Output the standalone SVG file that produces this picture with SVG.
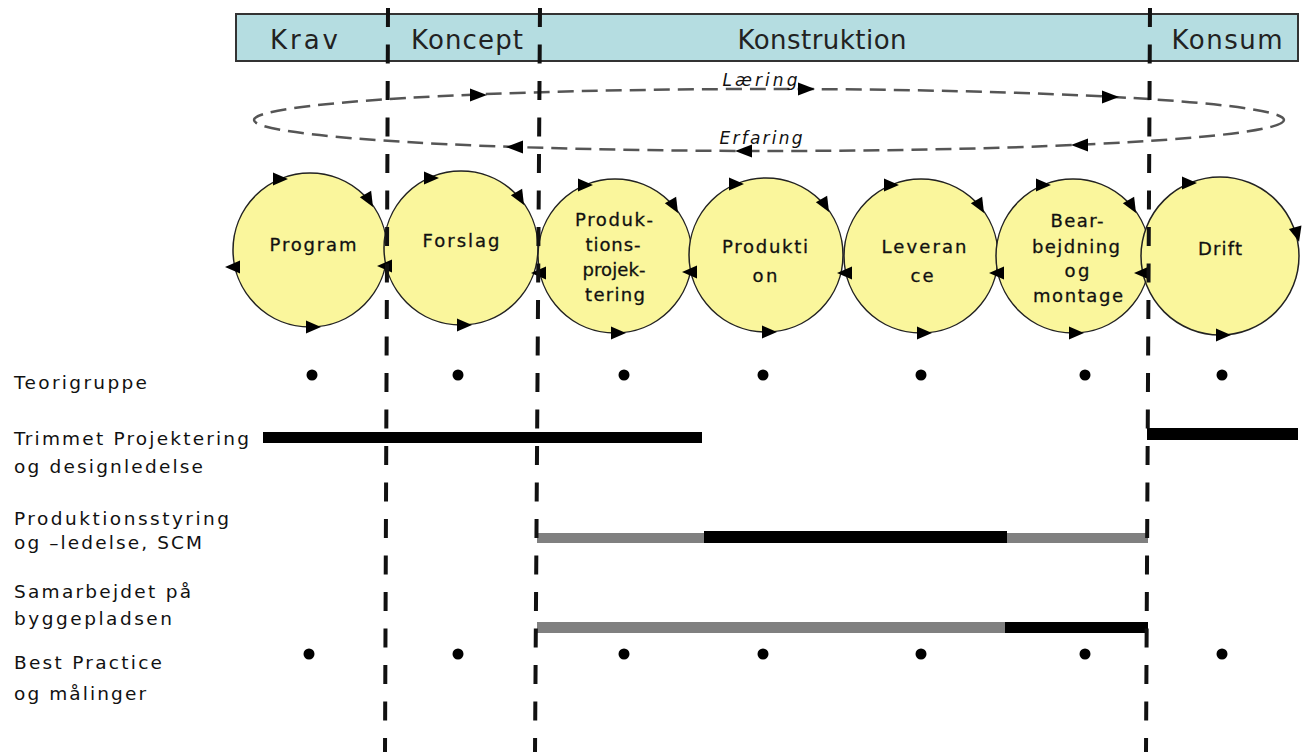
<svg xmlns="http://www.w3.org/2000/svg" width="1304" height="752" viewBox="0 0 1304 752">
<defs>
<style>
.hdr{fill:#B5DDE1;stroke:#333;stroke-width:2}
.hl{font-family:"DejaVu Sans","Liberation Sans",sans-serif;font-size:26px;fill:#222;text-anchor:middle}
.circ{fill:#FAF69C;stroke:#222;stroke-width:1.5}
.ct{font-family:"DejaVu Sans","Liberation Sans",sans-serif;font-size:18px;fill:#111;text-anchor:middle;stroke:#111;stroke-width:0.3}
.lbl{font-family:"DejaVu Sans","Liberation Sans",sans-serif;font-size:18.5px;fill:#111}
.cyc{font-family:"DejaVu Sans","Liberation Sans",sans-serif;font-size:17px;font-style:italic;fill:#111;text-anchor:middle}
.div{stroke:#111;stroke-width:4;stroke-dasharray:19 17.5;fill:none}
.ell{fill:none;stroke:#555;stroke-width:2.5;stroke-dasharray:16 8}
.dot{fill:#000}
.blk{fill:#000}
.gry{fill:#808080}
</style>
<path id="ah" d="M9,0 L-8,-6.5 L-8,6.5 Z" fill="#000"/>
<path id="ch" d="M8,0 L-7,-6.5 L-7,6.5 Z" fill="#000"/>
</defs>
<rect width="1304" height="752" fill="#fff"/>

<g id="phases">
  <rect class="hdr" x="236" y="14" width="1062" height="47"/>
  <text class="hl" x="304" y="49" textLength="68" lengthAdjust="spacing">Krav</text>
  <text class="hl" x="467" y="49" textLength="112" lengthAdjust="spacing">Koncept</text>
  <text class="hl" x="822" y="49" textLength="169" lengthAdjust="spacing">Konstruktion</text>
  <text class="hl" x="1227" y="49" textLength="111" lengthAdjust="spacing">Konsum</text>
</g>

<g id="connectors">
  <ellipse class="ell" cx="769" cy="120" rx="515" ry="31"/>
  <use href="#ah" transform="translate(478,95)"/>
  <use href="#ah" transform="translate(806,89)"/>
  <use href="#ah" transform="translate(1110,97)"/>
  <use href="#ah" transform="translate(515,147) rotate(180)"/>
  <use href="#ah" transform="translate(744,151) rotate(180)"/>
  <use href="#ah" transform="translate(1080,145) rotate(180)"/>
  <text class="cyc" x="760" y="86" textLength="75" lengthAdjust="spacing">Læring</text>
  <text class="cyc" x="761" y="144" textLength="83" lengthAdjust="spacing">Erfaring</text>
</g>

<g id="node-program">
  <circle class="circ" cx="310" cy="250" r="77"/>
  <use href="#ch" transform="translate(280,179)"/>
  <use href="#ch" transform="translate(369,200) rotate(60)"/>
  <use href="#ch" transform="translate(233,267) rotate(180)"/>
  <use href="#ch" transform="translate(313,327)"/>
  <text class="ct" x="313" y="251" textLength="87" lengthAdjust="spacing">Program</text>
</g>
<g id="node-forslag">
  <circle class="circ" cx="461" cy="248" r="77"/>
  <use href="#ch" transform="translate(431,178)"/>
  <use href="#ch" transform="translate(520,198) rotate(60)"/>
  <use href="#ch" transform="translate(385,266) rotate(180)"/>
  <use href="#ch" transform="translate(464,325)"/>
  <text class="ct" x="461" y="247" textLength="77" lengthAdjust="spacing">Forslag</text>
</g>
<g id="node-produktionsprojektering">
  <circle class="circ" cx="615" cy="256" r="77"/>
  <use href="#ch" transform="translate(585,185)"/>
  <use href="#ch" transform="translate(674,206) rotate(60)"/>
  <use href="#ch" transform="translate(539,273) rotate(180)"/>
  <use href="#ch" transform="translate(618,333)"/>
  <text class="ct" x="614" y="226" textLength="78" lengthAdjust="spacing">Produk-</text>
  <text class="ct" x="613" y="251" textLength="55" lengthAdjust="spacing">tions-</text>
  <text class="ct" x="614" y="276" textLength="63" lengthAdjust="spacing">projek-</text>
  <text class="ct" x="615" y="301" textLength="60" lengthAdjust="spacing">tering</text>
</g>
<g id="node-produktion">
  <circle class="circ" cx="766" cy="255" r="77"/>
  <use href="#ch" transform="translate(736,184)"/>
  <use href="#ch" transform="translate(825,205) rotate(60)"/>
  <use href="#ch" transform="translate(690,272) rotate(180)"/>
  <use href="#ch" transform="translate(769,332)"/>
  <text class="ct" x="765" y="253" textLength="86" lengthAdjust="spacing">Produkti</text>
  <text class="ct" x="765" y="282" textLength="25" lengthAdjust="spacing">on</text>
</g>
<g id="node-leverance">
  <circle class="circ" cx="921" cy="256" r="77"/>
  <use href="#ch" transform="translate(891,185)"/>
  <use href="#ch" transform="translate(980,206) rotate(60)"/>
  <use href="#ch" transform="translate(845,273) rotate(180)"/>
  <use href="#ch" transform="translate(924,333)"/>
  <text class="ct" x="924" y="253" textLength="85" lengthAdjust="spacing">Leveran</text>
  <text class="ct" x="922" y="282" textLength="23" lengthAdjust="spacing">ce</text>
</g>
<g id="node-bearbejdning">
  <circle class="circ" cx="1073" cy="256" r="77"/>
  <use href="#ch" transform="translate(1043,185)"/>
  <use href="#ch" transform="translate(1132,206) rotate(60)"/>
  <use href="#ch" transform="translate(997,273) rotate(180)"/>
  <use href="#ch" transform="translate(1076,333)"/>
  <text class="ct" x="1077" y="227" textLength="53" lengthAdjust="spacing">Bear-</text>
  <text class="ct" x="1076" y="253" textLength="88" lengthAdjust="spacing">bejdning</text>
  <text class="ct" x="1077" y="277" textLength="25" lengthAdjust="spacing">og</text>
  <text class="ct" x="1078" y="302" textLength="90" lengthAdjust="spacing">montage</text>
</g>
<g id="node-drift">
  <circle class="circ" cx="1220" cy="256" r="79"/>
  <use href="#ch" transform="translate(1189,183)"/>
  <use href="#ch" transform="translate(1297,234) rotate(75)"/>
  <use href="#ch" transform="translate(1142,273) rotate(180)"/>
  <use href="#ch" transform="translate(1223,335)"/>
  <text class="ct" x="1220" y="255" textLength="44" lengthAdjust="spacing">Drift</text>
</g>

<g id="row-teorigruppe">
  <text class="lbl" x="14" y="389" textLength="133" lengthAdjust="spacing">Teorigruppe</text>
  <circle class="dot" cx="312" cy="375" r="5.5"/>
  <circle class="dot" cx="458" cy="375" r="5.5"/>
  <circle class="dot" cx="624" cy="375" r="5.5"/>
  <circle class="dot" cx="763" cy="375" r="5.5"/>
  <circle class="dot" cx="921" cy="375" r="5.5"/>
  <circle class="dot" cx="1085" cy="375" r="5.5"/>
  <circle class="dot" cx="1222" cy="375" r="5.5"/>
</g>
<g id="row-trimmet">
  <text class="lbl" x="14" y="445" textLength="235" lengthAdjust="spacing">Trimmet Projektering</text>
  <text class="lbl" x="14" y="473" textLength="189" lengthAdjust="spacing">og designledelse</text>
  <rect class="blk" x="263" y="432" width="439" height="11"/>
  <rect class="blk" x="1147" y="428" width="151" height="12"/>
</g>
<g id="row-produktionsstyring">
  <text class="lbl" x="14" y="525" textLength="215" lengthAdjust="spacing">Produktionsstyring</text>
  <text class="lbl" x="14" y="549" textLength="188" lengthAdjust="spacing">og –ledelse, SCM</text>
  <rect class="gry" x="537" y="533" width="611" height="10"/>
  <rect class="blk" x="704" y="531" width="303" height="12"/>
</g>
<g id="row-samarbejdet">
  <text class="lbl" x="14" y="598" textLength="177" lengthAdjust="spacing">Samarbejdet på</text>
  <text class="lbl" x="14" y="625" textLength="158" lengthAdjust="spacing">byggepladsen</text>
  <rect class="gry" x="537" y="622" width="468" height="11"/>
  <rect class="blk" x="1005" y="622" width="143" height="11"/>
</g>
<g id="row-bestpractice">
  <text class="lbl" x="14" y="669" textLength="148" lengthAdjust="spacing">Best Practice</text>
  <text class="lbl" x="14" y="700" textLength="132" lengthAdjust="spacing">og målinger</text>
  <circle class="dot" cx="309" cy="654" r="5.5"/>
  <circle class="dot" cx="458" cy="654" r="5.5"/>
  <circle class="dot" cx="624" cy="654" r="5.5"/>
  <circle class="dot" cx="763" cy="654" r="5.5"/>
  <circle class="dot" cx="921" cy="654" r="5.5"/>
  <circle class="dot" cx="1085" cy="654" r="5.5"/>
  <circle class="dot" cx="1222" cy="654" r="5.5"/>
</g>

<g id="dividers">
  <line class="div" x1="388" y1="8" x2="385" y2="752"/>
  <line class="div" x1="540" y1="8" x2="535" y2="752"/>
  <line class="div" x1="1150" y1="8" x2="1146" y2="752"/>
</g>
</svg>
